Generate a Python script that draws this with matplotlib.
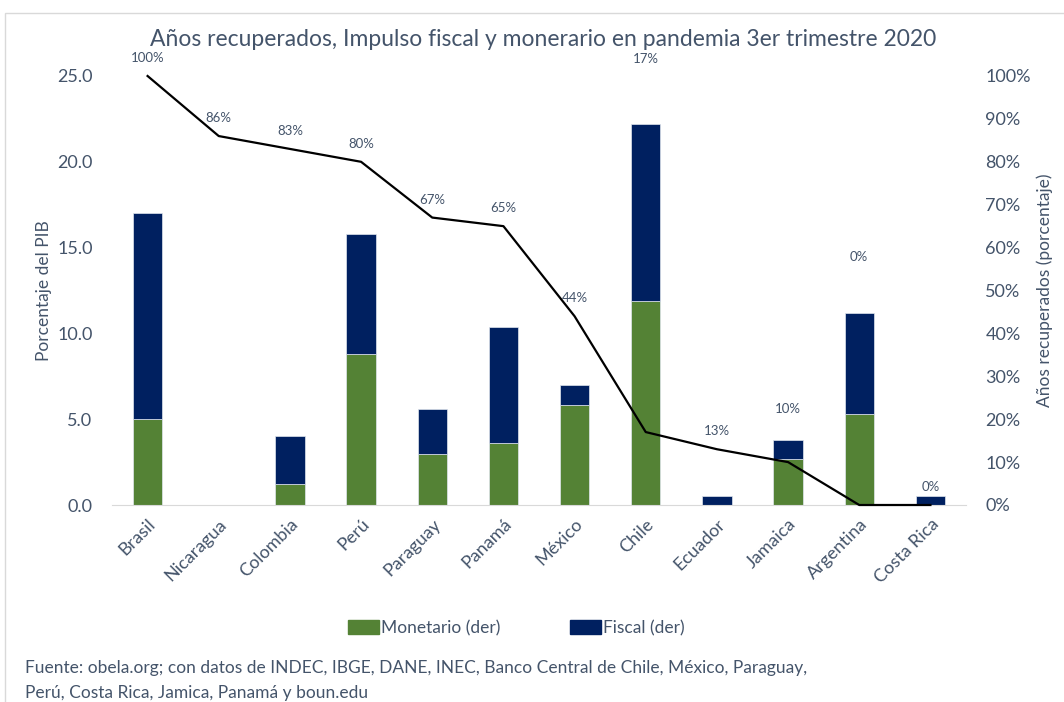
import numpy as np
import matplotlib.pyplot as plt
from matplotlib.patches import Patch, Rectangle
from matplotlib.ticker import PercentFormatter

plt.rcParams['font.family'] = ['Lato', 'DejaVu Sans']

paises = ["Brasil", "Nicaragua", "Colombia", "Perú", "Paraguay", "Panamá",
          "México", "Chile", "Ecuador", "Jamaica", "Argentina", "Costa Rica"]
monetario = [5.0, 0.0, 1.2, 8.8, 3.0, 3.6, 5.8, 11.9, 0.0, 2.7, 5.3, 0.0]
fiscal = [12.0, 0.0, 2.8, 7.0, 2.6, 6.8, 1.2, 10.3, 0.5, 1.1, 5.9, 0.5]
anios_rec = [1.00, 0.86, 0.83, 0.80, 0.67, 0.65, 0.44, 0.17, 0.13, 0.10, 0.00, 0.00]

# posicion de las etiquetas (eje derecho); None = justo encima del punto
pos_etiq = [None, None, None, None, None, None, None, 1.04, None, 0.224, 0.578, None]

verde = '#548235'
azul = '#002060'
gris_txt = '#44546A'

fig = plt.figure(figsize=(10.64, 7.02), dpi=100)
fig.patches.append(Rectangle((5/1064, -0.1), 1.2, (702-13)/702 + 0.1,
                             transform=fig.transFigure, fill=False,
                             edgecolor='#D9D9D9', linewidth=1))
ax = fig.add_axes([112/1064, (702-505)/702, 854/1064, 429/702])
x = np.arange(len(paises))
ax.bar(x, monetario, width=0.41, color=verde, edgecolor='#E0E6EE', linewidth=0.5)
ax.bar(x, fiscal, width=0.41, bottom=monetario, color=azul, edgecolor='#E0E6EE', linewidth=0.5)
ax.set_xlim(-0.5, len(paises) - 0.5)
ax.set_ylim(0, 25)
ax.set_yticks(np.arange(0, 25.1, 5))
ax.set_yticklabels([f"{v:.1f}" for v in np.arange(0, 25.1, 5)])
ax.set_xticks(x)
ax.set_xticklabels(paises, rotation=45, ha='right', rotation_mode='anchor')
for s in ['top', 'right', 'left']:
    ax.spines[s].set_visible(False)
ax.spines['bottom'].set_color('#D9D9D9')
ax.tick_params(axis='both', length=0, colors=gris_txt, labelsize=13)
ax.tick_params(axis='y', pad=14)
ax.tick_params(axis='x', pad=8)
ax.set_ylabel("Porcentaje del PIB", color=gris_txt, fontsize=12.5, labelpad=4)

ax2 = ax.twinx()
ax2.plot(x, anios_rec, color='black', linewidth=1.6, clip_on=False)
ax2.set_ylim(0, 1)
ax2.set_yticks(np.arange(0, 1.01, 0.1))
ax2.yaxis.set_major_formatter(PercentFormatter(1.0, decimals=0))
for s in ['top', 'right', 'left', 'bottom']:
    ax2.spines[s].set_visible(False)
ax2.tick_params(axis='y', length=0, colors=gris_txt, labelsize=13, pad=14)
ax2.set_ylabel("Años recuperados (porcentaje)", color=gris_txt, fontsize=12.5, labelpad=4)

for xi, v, p in zip(x, anios_rec, pos_etiq):
    txt = f"{v*100:.0f}%"
    if p is None:
        ax2.annotate(txt, (xi, v), xytext=(0, 13), textcoords='offset points',
                     ha='center', va='center', fontsize=9.5, color=gris_txt)
    else:
        ax2.text(xi, p, txt, ha='center', va='center', fontsize=9.5,
                 color=gris_txt, clip_on=False)

fig.text(0.51, 1 - 40/702, "Años recuperados, Impulso fiscal y monerario en pandemia 3er trimestre 2020",
         ha='center', va='center', fontsize=16.5, color=gris_txt)

handles = [Patch(color=verde, label="Monetario (der)"), Patch(color=azul, label="Fiscal (der)")]
fig.legend(handles=handles, loc='center', bbox_to_anchor=(0.485, 1 - 628/702), ncol=2,
           frameon=False, fontsize=12.5, labelcolor=gris_txt, handlelength=1.8,
           handleheight=0.8, handletextpad=0.1, columnspacing=4.0)

fig.text(25/1064, 1 - 668/702,
         "Fuente: obela.org; con datos de INDEC, IBGE, DANE, INEC, Banco Central de Chile, México, Paraguay,",
         ha='left', va='center', fontsize=12.5, color=gris_txt)
fig.text(25/1064, 1 - 693/702,
         "Perú, Costa Rica, Jamica, Panamá y boun.edu",
         ha='left', va='center', fontsize=12.5, color=gris_txt)

fig.savefig('out.png', dpi=100)
